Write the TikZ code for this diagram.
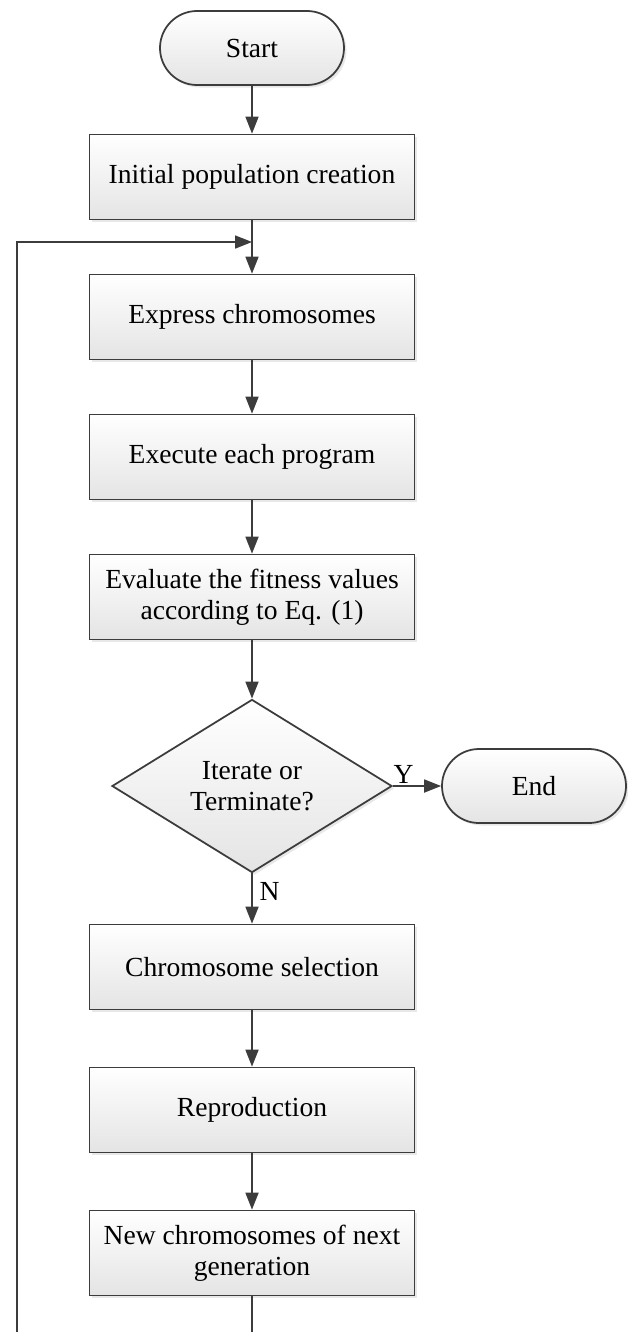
\documentclass[tikz,border=0pt]{standalone}
\usepackage{fontspec}
\setmainfont{Liberation Serif}
\usetikzlibrary{shapes.geometric,arrows.meta,shadows}

\definecolor{linegray}{HTML}{3C3C3C}
\definecolor{fillgray}{HTML}{E4E4E4}

\tikzset{
    base/.style={draw=linegray, line width=1pt, top color=white, bottom color=fillgray,
        drop shadow={shadow xshift=0.05cm, shadow yshift=-0.05cm, fill=gray!35},
        align=center, font=\fontsize{15.7}{17.6}\selectfont},
    procbox/.style={base, rectangle, minimum width=6.5cm, minimum height=1.7cm},
    termbox/.style={base, rectangle, rounded corners=0.74cm, minimum width=3.68cm, minimum height=1.48cm},
    decbox/.style={base, diamond, minimum width=5.6cm, minimum height=3.36cm, inner sep=0pt},
    flow/.style={draw=linegray, line width=1pt, -{Triangle[length=0.34cm, width=0.26cm]}},
    lbl/.style={font=\fontsize{15.7}{17.6}\selectfont, inner sep=1pt}
}

\begin{document}
\begin{tikzpicture}

    % Page size of the reference
    \useasboundingbox (0,0) rectangle (12.56,-26.64);

    % Main column
    \node[termbox] (start) at (5.04,-0.96) {Start};
    \node[procbox] (init) at (5.04,-3.54) {Initial population creation};
    \node[procbox] (express) at (5.04,-6.34) {Express chromosomes};
    \node[procbox] (execute) at (5.04,-9.14) {Execute each program};
    \node[procbox] (evaluate) at (5.04,-11.94) {Evaluate the fitness values\\according to Eq. (1)};
    \node[decbox] (decide) at (5.04,-15.72) {Iterate or\\Terminate?};
    \node[termbox] (stop) at (10.68,-15.72) {End};
    \node[procbox] (select) at (5.04,-19.34) {Chromosome selection};
    \node[procbox] (repro) at (5.04,-22.20) {Reproduction};
    \node[procbox] (newgen) at (5.04,-25.06) {New chromosomes of next\\generation};

    % Loop helper points
    \coordinate (merge) at (5.04,-4.84);
    \coordinate (downend) at (5.04,-26.64);
    \coordinate (leftbot) at (0.34,-26.64);
    \coordinate (lefttop) at (0.34,-4.84);

    % Arrows
    \draw[flow] (start) -- (init);
    \draw[draw=linegray, line width=1pt] (init) -- (merge);
    \draw[flow] (merge) -- (express);
    \draw[flow] (express) -- (execute);
    \draw[flow] (execute) -- (evaluate);
    \draw[flow] (evaluate) -- (decide);
    \draw[flow] (decide.east) -- node[lbl, pos=0.22, above] {Y} (stop);
    \draw[flow] (decide.south) -- node[lbl, pos=0.36, right, xshift=0.1cm] {N} (select);
    \draw[flow] (select) -- (repro);
    \draw[flow] (repro) -- (newgen);

    % Feedback line
    \draw[draw=linegray, line width=1pt] (newgen) -- (downend);
    \draw[flow] (leftbot) -- (lefttop) -- (merge);

\end{tikzpicture}
\end{document}
